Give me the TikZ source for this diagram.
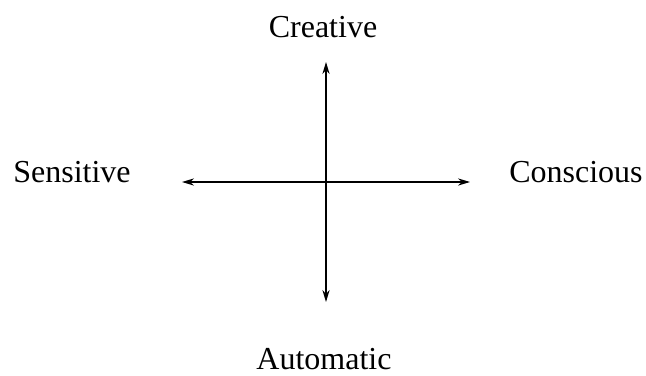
\documentclass[tikz,border=0pt]{standalone}
\usepackage{fontspec}
\setmainfont{Liberation Serif}
\usetikzlibrary{arrows.meta,positioning}

\begin{document}
\begin{tikzpicture}[x=0.5pt,y=-0.5pt,
    axis/.style={line width=0.6pt, {Stealth[length=6pt,width=3.6pt]}-{Stealth[length=6pt,width=3.6pt]}},
    pole/.style={font=\fontsize{16}{19}\selectfont, anchor=base, inner sep=0pt}]
    \useasboundingbox (0,0) rectangle (646,375);
    % axis ends
    \coordinate (top) at (326,62);
    \coordinate (bottom) at (326,302);
    \coordinate (left) at (182,182);
    \coordinate (right) at (470,182);
    \draw[axis] (top) -- (bottom);
    \draw[axis] (left) -- (right);
    % the four poles
    \node[pole] (creative) at (323,37) {Creative};
    \node[pole] (automatic) at (324,369) {Automatic};
    \node[pole] (sensitive) at (72,182) {Sensitive};
    \node[pole] (conscious) at (576,182) {Conscious};
\end{tikzpicture}
\end{document}
